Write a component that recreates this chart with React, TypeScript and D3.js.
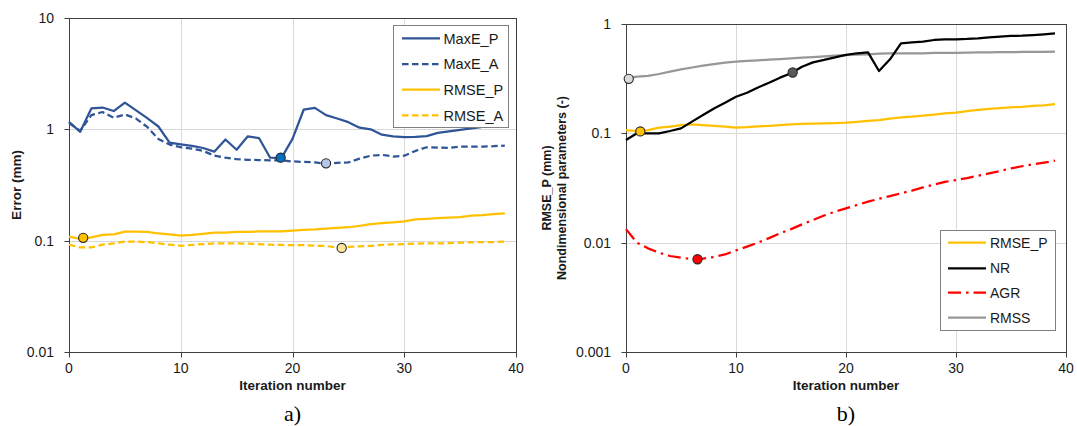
import React from "react";
import * as d3 from "d3";

const iterations = [0,1,2,3,4,5,6,7,8,9,10,11,12,13,14,15,16,17,18,19,20,21,22,23,24,25,26,27,28,29,30,31,32,33,34,35,36,37,38,39];

const maxEP = [1.17,0.95,1.54,1.57,1.46,1.74,1.48,1.26,1.06,0.76,0.733,0.71,0.68,0.63,0.81,0.656,0.865,0.835,0.556,0.552,0.82,1.5,1.56,1.34,1.25,1.16,1.035,1.0,0.895,0.865,0.85,0.855,0.87,0.93,0.96,0.99,1.02,1.05,1.08,1.1];
const maxEA = [1.14,0.97,1.34,1.43,1.27,1.36,1.25,1.05,0.82,0.73,0.69,0.67,0.64,0.58,0.556,0.54,0.533,0.53,0.525,0.525,0.515,0.51,0.505,0.49,0.5,0.505,0.545,0.58,0.59,0.57,0.58,0.64,0.69,0.685,0.68,0.7,0.7,0.7,0.705,0.715];
const rmsePLeft = [0.1087,0.1036,0.107,0.1125,0.114,0.1205,0.1205,0.12,0.116,0.114,0.111,0.1125,0.115,0.118,0.118,0.12,0.12,0.121,0.121,0.121,0.123,0.125,0.126,0.128,0.13,0.132,0.136,0.141,0.144,0.146,0.149,0.155,0.157,0.159,0.161,0.163,0.168,0.17,0.173,0.176];
const rmseA = [0.092,0.087,0.087,0.092,0.0945,0.098,0.098,0.097,0.0945,0.092,0.09,0.0915,0.0933,0.0945,0.0945,0.0945,0.094,0.093,0.092,0.0915,0.091,0.091,0.09,0.0895,0.087,0.088,0.089,0.09,0.0915,0.0925,0.0933,0.094,0.0945,0.0945,0.095,0.096,0.0966,0.097,0.097,0.098];

const rmsePRight = [0.107,0.105,0.107,0.113,0.115,0.119,0.1205,0.119,0.117,0.115,0.113,0.114,0.116,0.117,0.119,0.121,0.122,0.1225,0.1235,0.124,0.125,0.127,0.13,0.132,0.136,0.14,0.142,0.145,0.148,0.152,0.155,0.16,0.164,0.167,0.17,0.173,0.175,0.178,0.18,0.185];
const nr = [0.0869,0.1,0.1,0.1,0.105,0.111,0.128,0.147,0.169,0.19,0.216,0.235,0.263,0.29,0.323,0.354,0.407,0.446,0.469,0.496,0.521,0.54,0.55,0.372,0.475,0.666,0.68,0.69,0.714,0.724,0.724,0.73,0.74,0.755,0.765,0.777,0.782,0.793,0.805,0.82];
const agr = [0.0133,0.01,0.00887,0.0081,0.00755,0.00728,0.0071,0.00715,0.0074,0.0078,0.0085,0.0092,0.01,0.011,0.0122,0.0133,0.0147,0.0161,0.0177,0.0192,0.0206,0.0221,0.0237,0.0252,0.0267,0.0283,0.0299,0.032,0.034,0.036,0.0374,0.039,0.041,0.043,0.0452,0.0478,0.05,0.052,0.054,0.0562];
const rmss = [0.319,0.33,0.335,0.349,0.366,0.385,0.4,0.416,0.43,0.443,0.452,0.459,0.466,0.472,0.478,0.485,0.492,0.499,0.506,0.513,0.52,0.524,0.528,0.535,0.54,0.54,0.54,0.54,0.545,0.545,0.545,0.548,0.55,0.55,0.552,0.553,0.555,0.556,0.557,0.558];

const xTicks = [0, 10, 20, 30, 40];
const yTicksLeft = [0.01, 0.1, 1, 10];
const yTickLabelsLeft = ["0.01", "0.1", "1", "10"];
const yTicksRight = [0.001, 0.01, 0.1, 1];
const yTickLabelsRight = ["0.001", "0.01", "0.1", "1"];

// highlighted points [iteration, value]
const markersLeft = [
  { x: 18.94, y: 0.556, fill: "#0070C0" },
  { x: 23.0, y: 0.495, fill: "#B4C7E7" },
  { x: 1.27, y: 0.106, fill: "#FFC000" },
  { x: 24.4, y: 0.086, fill: "#FFE699" },
];
const markersRight = [
  { x: 0.25, y: 0.315, fill: "#D9D9D9" },
  { x: 15.15, y: 0.36, fill: "#595959" },
  { x: 1.3, y: 0.104, fill: "#FFC000" },
  { x: 6.5, y: 0.00705, fill: "#FF0000" },
];

const BLUE = "#2F5597";
const YELLOW = "#FFC000";
const RED = "#FF0000";
const GRAY = "#979797";
const FONT = "'Liberation Sans', Arial, sans-serif";

type Series = { name: string; values: number[]; color: string; dash?: string };

const leftSeries: Series[] = [
  { name: "MaxE_P", values: maxEP, color: BLUE },
  { name: "MaxE_A", values: maxEA, color: BLUE, dash: "6.5,3.5" },
  { name: "RMSE_P", values: rmsePLeft, color: YELLOW },
  { name: "RMSE_A", values: rmseA, color: YELLOW, dash: "6.5,3.5" },
];
const rightSeries: Series[] = [
  { name: "RMSE_P", values: rmsePRight, color: YELLOW },
  { name: "NR", values: nr, color: "#000000" },
  { name: "AGR", values: agr, color: RED, dash: "13,5,2.5,5" },
  { name: "RMSS", values: rmss, color: GRAY },
];

type PanelProps = {
  x0: number; x1: number; y0: number; y1: number;
  yDomain: [number, number];
  yTicks: number[]; yLabels: string[];
  series: Series[];
  markers: { x: number; y: number; fill: string }[];
  legend: { x: number; y: number; w: number; h: number; rows: number[]; lx0: number; lx1: number; tx: number; fs: number };
  drawOrder: number[];
  yTitles: { text: string; x: number }[];
  yTitleSize: number;
  caption: string;
};

function Panel(p: PanelProps) {
  const xs = d3.scaleLinear().domain([0, 40]).range([p.x0, p.x1]);
  const ys = d3.scaleLog().domain(p.yDomain).range([p.y1, p.y0]);
  const line = (vals: number[]) =>
    d3.line<number>().x((_, i) => xs(iterations[i])).y((v) => ys(v))(vals) || "";
  const cx = (p.x0 + p.x1) / 2;
  const cy = (p.y0 + p.y1) / 2;
  const crisp = (v: number) => Math.round(v) + 0.5;
  return (
    <g>
      {xTicks.slice(1, -1).map((t) => (
        <line key={"gx" + t} x1={crisp(xs(t))} x2={crisp(xs(t))} y1={p.y0} y2={p.y1} stroke="#D9D9D9" strokeWidth={1} />
      ))}
      {p.yTicks.slice(1, -1).map((t) => (
        <line key={"gy" + t} x1={p.x0} x2={p.x1} y1={crisp(ys(t))} y2={crisp(ys(t))} stroke="#D9D9D9" strokeWidth={1} />
      ))}
      <rect x={crisp(p.x0)} y={crisp(p.y0)} width={Math.round(p.x1 - p.x0)} height={Math.round(p.y1 - p.y0)} fill="none" stroke="#404040" strokeWidth={1} />
      {p.yTicks.map((t, i) => (
        <g key={"ty" + t}>
          <line x1={crisp(p.x0) - 5} x2={crisp(p.x0)} y1={crisp(ys(t))} y2={crisp(ys(t))} stroke="#404040" />
          <text x={p.x0 - 15} y={ys(t)} dy="0.35em" textAnchor="end" fontSize={14} fontFamily={FONT} fill="#1a1a1a">{p.yLabels[i]}</text>
        </g>
      ))}
      {xTicks.map((t) => (
        <g key={"tx" + t}>
          <line x1={crisp(xs(t))} x2={crisp(xs(t))} y1={crisp(p.y1)} y2={crisp(p.y1) + 5} stroke="#404040" />
          <text x={xs(t)} y={p.y1 + 21} textAnchor="middle" fontSize={14} fontFamily={FONT} fill="#1a1a1a">{t}</text>
        </g>
      ))}
      {p.drawOrder.map((idx) => {
        const s = p.series[idx];
        return (
          <path key={s.name} d={line(s.values)} fill="none" stroke={s.color} strokeWidth={2.25} strokeDasharray={s.dash} strokeLinejoin="round" />
        );
      })}
      {p.markers.map((m, i) => (
        <circle key={"m" + i} cx={xs(m.x)} cy={ys(m.y)} r={4.6} fill={m.fill} stroke="#262626" strokeWidth={1.1} />
      ))}
      <rect x={p.legend.x + 0.5} y={p.legend.y + 0.5} width={p.legend.w} height={p.legend.h} fill="#FFFFFF" stroke="#808080" strokeWidth={1} />
      {p.series.map((s, i) => (
        <g key={"lg" + s.name}>
          <line x1={p.legend.lx0} x2={p.legend.lx1} y1={p.legend.rows[i]} y2={p.legend.rows[i]} stroke={s.color} strokeWidth={2.25} strokeDasharray={s.dash} />
          <text x={p.legend.tx} y={p.legend.rows[i]} dy="0.36em" fontSize={p.legend.fs} fontFamily={FONT} fill="#1a1a1a">{s.name}</text>
        </g>
      ))}
      <text x={cx} y={p.y1 + 38} textAnchor="middle" fontSize={13.5} fontWeight="bold" fontFamily={FONT} fill="#1a1a1a">Iteration number</text>
      {p.yTitles.map((t) => (
        <text key={t.text} transform={`translate(${t.x},${cy}) rotate(-90)`} textAnchor="middle" dy="0.35em" fontSize={p.yTitleSize} fontWeight="bold" fontFamily={FONT} fill="#1a1a1a">{t.text}</text>
      ))}
      <text x={cx} y={421} textAnchor="middle" fontSize={22} fontFamily="'Liberation Serif', 'Times New Roman', serif" fill="#000">{p.caption}</text>
    </g>
  );
}

export default function App() {
  return (
    <svg width={1077} height={426} viewBox="0 0 1077 426" style={{ position: "absolute", left: 0, top: 0, background: "#fff" }}>
      <rect x={0} y={0} width={1077} height={426} fill="#fff" />
      <Panel
        x0={69} x1={516} y0={18} y1={352}
        yDomain={[0.01, 10]}
        yTicks={yTicksLeft} yLabels={yTickLabelsLeft}
        series={leftSeries}
        markers={markersLeft}
        legend={{ x: 393, y: 25, w: 115, h: 102, rows: [38.3, 64, 89.7, 115.3], lx0: 402, lx1: 440, tx: 443.5, fs: 14.5 }}
        drawOrder={[3, 2, 1, 0]}
        yTitles={[{ text: "Error (mm)", x: 16 }]}
        yTitleSize={13.5}
        caption="a)"
      />
      <Panel
        x0={626} x1={1066} y0={24} y1={352}
        yDomain={[0.001, 1]}
        yTicks={yTicksRight} yLabels={yTickLabelsRight}
        series={rightSeries}
        markers={markersRight}
        legend={{ x: 940, y: 230, w: 115, h: 100, rows: [242.7, 268.3, 292.7, 317.7], lx0: 948, lx1: 986, tx: 990, fs: 14 }}
        drawOrder={[3, 2, 0, 1]}
        yTitles={[{ text: "RMSE_P (mm)", x: 547 }, { text: "Nondimensional parameters (-)", x: 562 }]}
        yTitleSize={12.5}
        caption="b)"
      />
    </svg>
  );
}
